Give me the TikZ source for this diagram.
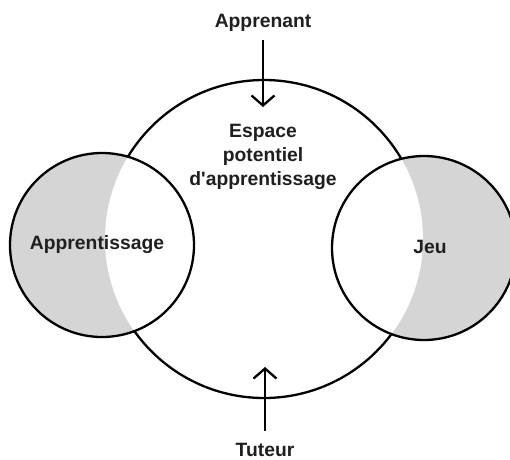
\documentclass[tikz,border=0pt]{standalone}
\usepackage{fontspec}
\setmainfont{Liberation Sans}
\usetikzlibrary{arrows.meta}
\begin{document}
\begin{tikzpicture}[x=1pt,y=-1pt,
  lbl/.style={font=\fontsize{19.3}{24}\selectfont\bfseries, text=black!88, align=center},
  ring/.style={line width=2.3pt, draw=black},
  arr/.style={line width=2.3pt, -{Straight Barb[length=10pt,width=23pt,line width=2.3pt]}},
  shade/.style={fill=gray!33}]
\useasboundingbox (0,0) rectangle (510,459);
\clip (0,0) rectangle (510,459);
\coordinate (cL) at (102,245);
\coordinate (cR) at (424,248);
\coordinate (cB) at (264,239);
% grey crescents
\fill[shade] (cL) circle[radius=92];
\fill[shade] (cR) circle[radius=92];
\fill[white] (cB) circle[radius=159];
% small circle outlines
\draw[ring] (cL) circle[radius=92];
\draw[ring] (cR) circle[radius=92];
% big circle outline outside the small circles
\begin{scope}[even odd rule]
  \clip (-10,-10) rectangle (520,470) (cL) circle[radius=92] (cR) circle[radius=92];
  \draw[ring] (cB) circle[radius=159];
\end{scope}
% labels
\node[lbl] (ap) at (263,23) {Apprenant};
\node[lbl] (esp) at (263,157) {Espace\\potentiel\\d\textquotesingle apprentissage};
\node[lbl] (app) at (97,245) {Apprentissage};
\node[lbl] (jeu) at (430,247) {Jeu};
\node[lbl, anchor=base] (tu) at (265,456) {Tuteur};
% arrows
\coordinate (topTip) at (263,107);
\coordinate (botTip) at (265,367);
\draw[arr] ([yshift=-5pt]ap.south) -- (topTip);
\draw[arr] ([yshift=8pt]tu.north) -- (botTip);
\end{tikzpicture}
\end{document}
